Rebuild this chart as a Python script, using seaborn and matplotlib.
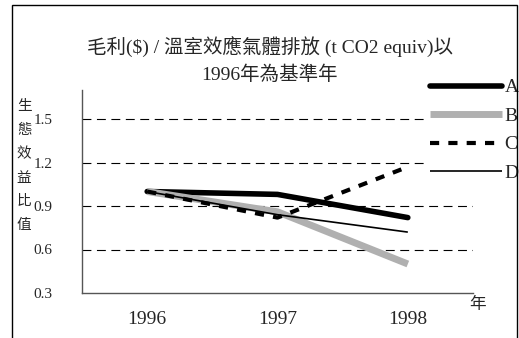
import numpy as np
import pandas as pd
import matplotlib.pyplot as plt
import seaborn as sns
from matplotlib.patches import Rectangle

# data
years = [1996, 1997, 1998]
series_a = [1.00, 0.98, 0.82]
series_b = [1.00, 0.86, 0.50]
series_c = [1.00, 0.82, 1.17]
series_d = [1.00, 0.84, 0.72]
labels = ['A', 'B', 'C', 'D']
y_ticks = [0.3, 0.6, 0.9, 1.2, 1.5]

df = pd.DataFrame({
    'year': years * 4,
    'value': series_a + series_b + series_c + series_d,
    'series': sum([[s] * 3 for s in labels], []),
})

sns.set_style('white')
plt.rcParams['font.family'] = ['Liberation Serif', 'Noto Sans CJK TC']

fig = plt.figure(figsize=(5.19, 3.38), dpi=100)
ax = fig.add_axes([82 / 519, 1 - 293 / 338, (473 - 82) / 519, (293 - 90) / 338])

styles = {
    'A': dict(color='black', lw=4.0, ls='-', cap='round'),
    'B': dict(color='#b0b0b0', lw=5.0, ls='-', cap='butt'),
    'C': dict(color='black', lw=3.0, ls=(0, (2.2, 2.2)), cap='butt'),
    'D': dict(color='black', lw=1.2, ls='-', cap='butt'),
}
for s in labels:
    st = styles[s]
    sns.lineplot(data=df[df['series'] == s], x='year', y='value', ax=ax,
                 color=st['color'], lw=st['lw'], linestyle=st['ls'], label=s,
                 solid_capstyle=st['cap'], dash_capstyle='butt')

ax.set_xlim(1995.5, 1998.5)
ax.set_ylim(0.3, 1.7)
ax.set_xticks(years)
ax.set_xticklabels([str(y) for y in years], fontsize=14)
ax.set_yticks(y_ticks)
ax.set_yticklabels([f'{v:.1f}' for v in y_ticks], fontsize=11)
ax.tick_params(axis='y', length=0, pad=21)
ax.tick_params(axis='x', length=0, pad=13)
ax.set_xlabel('')
ax.set_ylabel('')

for v in y_ticks[1:]:
    ax.axhline(v, color='black', lw=0.8, ls=(0, (8, 5)), zorder=0)

for side in ['top', 'right']:
    ax.spines[side].set_visible(False)
for side in ['left', 'bottom']:
    ax.spines[side].set_color('#555555')
    ax.spines[side].set_linewidth(1.0)

leg = ax.legend(loc='upper left', bbox_to_anchor=(424 / 519, 1 - 73 / 338),
                bbox_transform=fig.transFigure, frameon=True, fontsize=14,
                handlelength=3.7, labelspacing=0.56, handletextpad=0.15,
                borderpad=0.3, borderaxespad=0)
leg.get_frame().set_facecolor('white')
leg.get_frame().set_edgecolor('none')
leg.get_frame().set_alpha(1)

fig.text(270 / 519, 1 - 47 / 338, '毛利($) / 溫室效應氣體排放 (t CO2 equiv)以',
         ha='center', va='center', fontsize=14)
fig.text(270 / 519, 1 - 75 / 338, '1996年為基準年',
         ha='center', va='center', fontsize=14)

fig.text(24 / 519, 1 - 166 / 338, '\n'.join('生態效益比值'),
         ha='center', va='center', fontsize=10.5, linespacing=2.05)
fig.text(478 / 519, 1 - 305 / 338, '年', ha='center', va='center', fontsize=12)

fig.patches.append(Rectangle((12 / 519, -0.2), (517 - 12) / 519, 1.2 - 5 / 338,
                             transform=fig.transFigure, fill=False,
                             edgecolor='black', lw=1.0))

fig.savefig('out.png', dpi=100)
